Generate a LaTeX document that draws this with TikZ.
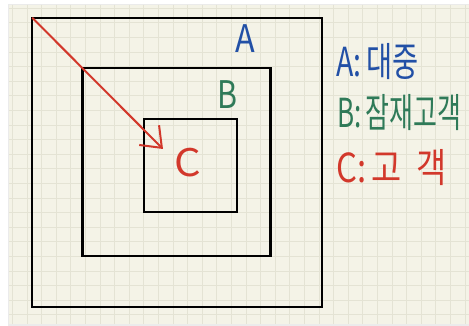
\documentclass[tikz,border=0pt]{standalone}
\usepackage{fontspec}
\setmainfont{Noto Sans CJK KR}
\usetikzlibrary{arrows.meta}
\definecolor{paper}{HTML}{F4F3E7}
\definecolor{gridc}{HTML}{E4E3D4}
\definecolor{penblue}{HTML}{2250A6}
\definecolor{pengreen}{HTML}{2F7A58}
\definecolor{penred}{HTML}{D2382B}
\tikzset{
  box/.style={draw=black, line width=2.4pt, minimum width=#1, minimum height=#1, inner sep=0pt, outer sep=0pt},
  letter/.style={font=\fontsize{38}{38}\selectfont, inner sep=0pt, transform shape},
  legend/.style={font=\fontsize{40}{40}\selectfont, inner sep=0pt, anchor=west, transform shape},
}
\begin{document}
\begin{tikzpicture}[x=1pt, y=-1pt]
\useasboundingbox (0,0) rectangle (469,326);
\fill[white] (0,0) rectangle (469,326);
\fill[black!8] (8,4) rectangle (469,326);
\fill[paper] (9,5) rectangle (469,324);
\begin{scope}
\clip (9,5) rectangle (469,324);
\foreach \i in {0,...,31} {
  \draw[gridc, line width=0.9pt] (12.4+14.6*\i,5) -- (12.4+14.6*\i,324);
}
\foreach \j in {0,...,22} {
  \draw[gridc, line width=0.9pt] (9,8.2+14.6*\j) -- (469,8.2+14.6*\j);
}
\end{scope}
% squares
\node[box=289.5pt] (outer) at (177,162.5) {};
\node[box=188pt] (middle) at (176.5,162) {};
\node[box=93pt] (inner) at (190.5,165.5) {};
% arrow
\coordinate (tip) at (163,149);
\draw[penred, line width=2pt, -{Straight Barb[length=18pt, width=28pt, line width=2pt]}] (outer.north west) -- (tip);
% labels in squares
\node[letter, text=penblue, xscale=0.85] (la) at (245,39) {A};
\node[letter, text=pengreen, xscale=0.8] (lb) at (227,95) {B};
\node[letter, text=penred, xscale=1.1] (lc) at (188,163) {C};
% legend
\node[legend, text=penblue, xscale=0.71] (ka) at (336,62) {A:\,대중};
\node[legend, text=pengreen, xscale=0.65] (kb) at (337,113) {B:\,잠재고객};
\node[legend, text=penred, xscale=0.82] (kc) at (336,168) {C:\,고\ \ 객};
\end{tikzpicture}
\end{document}
